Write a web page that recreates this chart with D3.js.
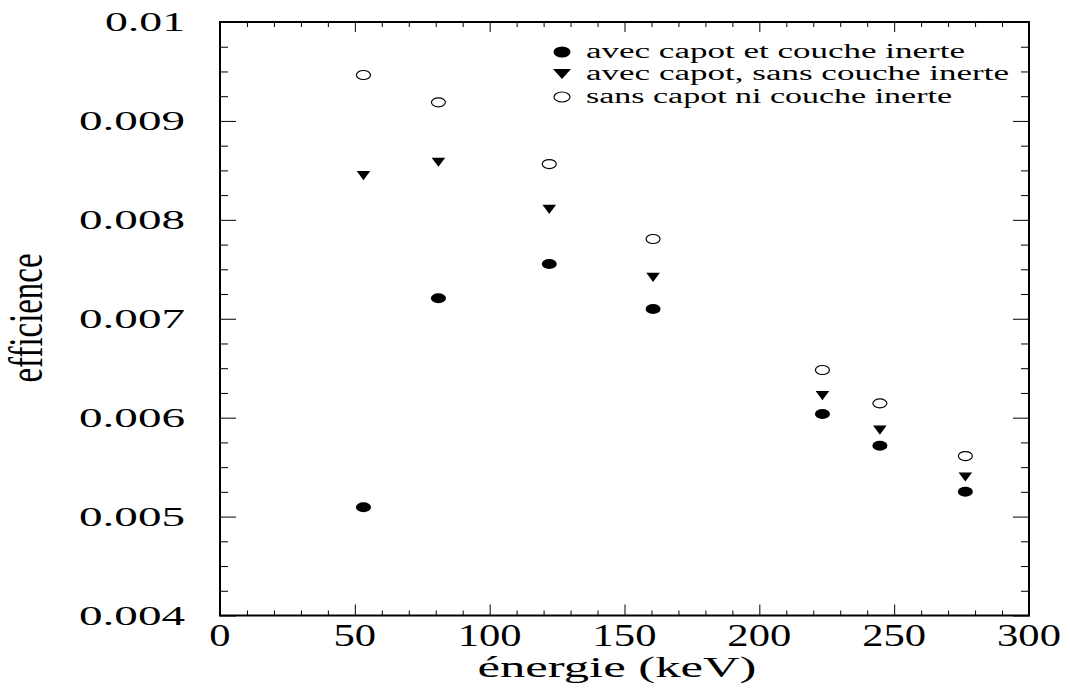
<!DOCTYPE html>
<html>
<head>
<meta charset="utf-8">
<script src="https://cdn.jsdelivr.net/npm/d3@7"></script>
<style>
  html, body { margin: 0; padding: 0; background: #fff; }
  svg { display: block; }
  svg text { font-family: "Times New Roman", "Liberation Serif", Tinos, Times, serif; }
</style>
</head>
<body>
<svg id="chart" width="1070" height="690"></svg>
<script>
// Gamma-line energies (keV)
const energies = [53.2, 81.0, 122.1, 160.6, 223.4, 244.7, 276.4];

// Detection efficiency for the three detector configurations
const withCapAndDeadLayer = [0.005094, 0.007207, 0.007553, 0.007098, 0.006037, 0.005716, 0.005251];
const withCapNoDeadLayer  = [0.008446, 0.008582, 0.008106, 0.007419, 0.006222, 0.005875, 0.005400];
const noCapNoDeadLayer    = [0.009464, 0.009188, 0.008564, 0.007806, 0.006482, 0.006145, 0.005612];

const seriesNames = [
  "avec capot et couche inerte",
  "avec capot, sans couche inerte",
  "sans capot ni couche inerte"
];

const xTickLabels = ["0", "50", "100", "150", "200", "250", "300"];
const yTickLabels = ["0.004", "0.005", "0.006", "0.007", "0.008", "0.009", "0.01"];

const svg = d3.select("#chart");

const L = 220, R = 1029, T = 22, B = 615.5;
const x = d3.scaleLinear().domain([0, 300]).range([L, R]);
const y = d3.scaleLinear().domain([0.004, 0.01]).range([B, T]);

const xMajor = xTickLabels.map(Number);
const xMinor = d3.range(0, 301, 10).filter(v => v % 50 !== 0);
const yMajor = yTickLabels.map(Number);
const yMinor = d3.range(0, 25).map(i => 0.004 + i * 0.00025).filter(v => Math.abs(v * 1000 - Math.round(v * 1000)) > 1e-9);

// Tick marks (inward on all four sides)
function tickGroup(axis, transform) {
  const g = svg.append("g").attr("transform", transform).call(axis);
  g.select(".domain").remove();
  g.selectAll(".tick line").attr("stroke", "#000").attr("stroke-width", 1);
  g.selectAll(".tick text").remove();
  return g;
}
tickGroup(d3.axisBottom(x).tickValues(xMajor).tickSize(-11).tickFormat(""), `translate(0,${B})`);
tickGroup(d3.axisBottom(x).tickValues(xMinor).tickSize(-5).tickFormat(""), `translate(0,${B})`);
tickGroup(d3.axisTop(x).tickValues(xMajor).tickSize(-10).tickFormat(""), `translate(0,${T})`);
tickGroup(d3.axisTop(x).tickValues(xMinor).tickSize(-5).tickFormat(""), `translate(0,${T})`);
tickGroup(d3.axisLeft(y).tickValues(yMajor).tickSize(-16).tickFormat(""), `translate(${L},0)`);
tickGroup(d3.axisLeft(y).tickValues(yMinor).tickSize(-8).tickFormat(""), `translate(${L},0)`);
tickGroup(d3.axisRight(y).tickValues(yMajor).tickSize(-16).tickFormat(""), `translate(${R},0)`);
tickGroup(d3.axisRight(y).tickValues(yMinor).tickSize(-8).tickFormat(""), `translate(${R},0)`);

// Frame
svg.append("rect")
  .attr("x", L).attr("y", T).attr("width", R - L).attr("height", B - T)
  .attr("fill", "none").attr("stroke", "#000").attr("stroke-width", 2);

function label(sel) {
  return sel.attr("fill", "#000").attr("lengthAdjust", "spacingAndGlyphs");
}

// Tick labels
svg.append("g").selectAll("text").data(xTickLabels).join("text")
  .call(label)
  .attr("x", d => x(+d))
  .attr("y", 646)
  .attr("text-anchor", "middle")
  .attr("font-size", 31)
  .attr("textLength", d => d.length * 21.3)
  .text(d => d);

svg.append("g").selectAll("text").data(yTickLabels).join("text")
  .call(label)
  .attr("x", 185)
  .attr("y", d => y(+d) + 9)
  .attr("text-anchor", "end")
  .attr("font-size", 27)
  .attr("textLength", d => d.length === 4 ? 80 : 106)
  .text(d => d);

// Axis titles
svg.append("text")
  .call(label)
  .attr("x", 617).attr("y", 677)
  .attr("text-anchor", "middle")
  .attr("font-size", 30)
  .attr("textLength", 279)
  .text("énergie (keV)");

svg.append("text")
  .call(label)
  .attr("transform", "translate(42,318) scale(1.45,1) rotate(-90)")
  .attr("text-anchor", "middle")
  .attr("font-size", 33)
  .attr("textLength", 129)
  .text("efficience");

// Marker shapes
function drawMarker(sel, kind, big) {
  const rx = big ? 8.5 : 7.5, ry = big ? 5.5 : 5;
  if (kind === 0) {
    sel.append("ellipse").attr("rx", rx).attr("ry", ry).attr("fill", "#000");
  } else if (kind === 1) {
    const w = big ? 9 : 6.8, h = big ? 5 : 4.6;
    sel.append("path").attr("d", `M${-w},${-h}L${w},${-h}L0,${h}Z`).attr("fill", "#000");
  } else {
    sel.append("ellipse").attr("rx", rx - 0.5).attr("ry", ry - 0.5)
      .attr("fill", "#fff").attr("stroke", "#000").attr("stroke-width", 1.2);
  }
}

const series = [withCapAndDeadLayer, withCapNoDeadLayer, noCapNoDeadLayer];
series.forEach((vals, k) => {
  const pts = svg.append("g").selectAll("g")
    .data(vals.map((v, i) => ({ e: energies[i], v })))
    .join("g")
    .attr("transform", d => `translate(${x(d.e)},${y(d.v)})`);
  pts.each(function () { drawMarker(d3.select(this), k, false); });
});

// Legend
const legendY = [52, 74, 97];
const legendW = [379, 423, 366];
seriesNames.forEach((name, k) => {
  const g = svg.append("g").attr("transform", `translate(562,${legendY[k]})`);
  drawMarker(g, k, true);
  svg.append("text")
    .call(label)
    .attr("x", 586).attr("y", legendY[k] + 5.5)
    .attr("font-size", 20)
    .attr("textLength", legendW[k])
    .text(name);
});
</script>
</body>
</html>
